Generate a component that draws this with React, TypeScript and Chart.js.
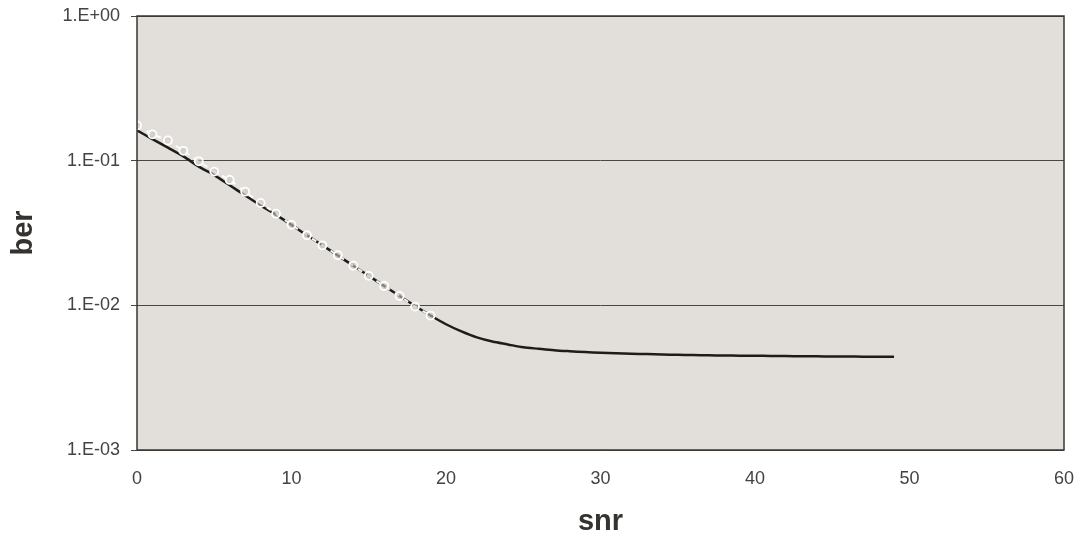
import React, { useEffect, useRef } from "react";
import { Chart, registerables } from "chart.js";

Chart.register(...registerables);

// snr values for the solid (theory) curve
const snrLine: number[] = [
  0, 1, 2, 3, 4, 5, 6, 7, 8, 9, 10, 11, 12, 13, 14, 15, 16, 17, 18, 19, 20, 21, 22, 23, 24,
  25, 26, 27, 28, 29, 30, 31, 32, 33, 34, 35, 36, 37, 38, 39, 40, 41, 42, 43, 44, 45, 46, 47, 48, 49,
];
const berLine: number[] = [
  0.162, 0.141, 0.123, 0.107, 0.091, 0.0794, 0.0676, 0.0575, 0.049, 0.0422,
  0.036, 0.0305, 0.026, 0.0221, 0.0188, 0.016, 0.0136, 0.0116, 0.0099, 0.0085,
  0.0074, 0.0066, 0.006, 0.00562, 0.00537, 0.00513, 0.00501, 0.0049, 0.00482, 0.00475,
  0.0047, 0.00466, 0.00463, 0.0046, 0.00457, 0.00455, 0.00453, 0.00451, 0.0045, 0.00449,
  0.00448, 0.00447, 0.00446, 0.00445, 0.00444, 0.00443, 0.00443, 0.00442, 0.00442, 0.00441,
];

// snr values for the marker (simulation) series
const snrMarkers: number[] = [0, 1, 2, 3, 4, 5, 6, 7, 8, 9, 10, 11, 12, 13, 14, 15, 16, 17, 18, 19];
const berMarkers: number[] = [
  0.175, 0.152, 0.138, 0.117, 0.099, 0.084, 0.0736, 0.061, 0.051, 0.043,
  0.036, 0.0305, 0.026, 0.0222, 0.0188, 0.016, 0.0136, 0.0116, 0.0098, 0.0085,
];

const yTickValues: number[] = [0.001, 0.01, 0.1, 1];
const yTickLabels: string[] = ["1.E-03", "1.E-02", "1.E-01", "1.E+00"];
const xTickValues: number[] = [0, 10, 20, 30, 40, 50, 60];

const FONT = "'Liberation Sans', Arial, sans-serif";

const plotBg = {
  id: "plotBg",
  beforeDraw(chart: any) {
    const { ctx, chartArea } = chart;
    ctx.save();
    ctx.fillStyle = "#e2dfda";
    ctx.fillRect(chartArea.left, chartArea.top, chartArea.right - chartArea.left, chartArea.bottom - chartArea.top);
    ctx.restore();
  },
  afterDatasetsDraw(chart: any) {
    const { ctx, chartArea } = chart;
    ctx.save();
    ctx.strokeStyle = "#3a3733";
    ctx.lineWidth = 1.5;
    ctx.strokeRect(chartArea.left, chartArea.top, chartArea.right - chartArea.left, chartArea.bottom - chartArea.top);
    ctx.restore();
  },
};

export default function App() {
  const ref = useRef<HTMLCanvasElement | null>(null);

  useEffect(() => {
    if (!ref.current) return;
    const chart = new Chart(ref.current, {
      type: "line",
      data: {
        datasets: [
          {
            label: "theory",
            data: snrLine.map((x, i) => ({ x, y: berLine[i] })),
            borderColor: "#1e1c1a",
            borderWidth: 2.5,
            pointRadius: 0,
            tension: 0.3,
            fill: false,
            order: 2,
          },
          {
            label: "simulation",
            data: snrMarkers.map((x, i) => ({ x, y: berMarkers[i] })),
            borderColor: "rgba(255,255,255,0.95)",
            borderWidth: 2,
            borderDash: [5, 6],
            pointRadius: 4,
            pointStyle: "circle",
            pointBorderColor: "#ffffff",
            pointBorderWidth: 1.8,
            pointBackgroundColor: "rgba(200,198,194,0.6)",
            tension: 0,
            fill: false,
            order: 1,
          },
        ],
      },
      options: {
        animation: false,
        responsive: true,
        maintainAspectRatio: false,
        layout: { padding: { left: 0, right: 23, top: 16, bottom: 0 } },
        plugins: {
          legend: { display: false },
          tooltip: { enabled: false },
        },
        scales: {
          x: {
            type: "linear",
            min: 0,
            max: 60,
            afterBuildTicks: (s: any) => {
              s.ticks = xTickValues.map((v) => ({ value: v }));
            },
            afterFit: (s: any) => {
              s.height = 92;
              s.paddingLeft = 0;
              s.paddingRight = 0;
            },
            grid: { display: false, drawTicks: false },
            border: { display: false },
            ticks: {
              padding: 18,
              color: "#454340",
              font: { family: FONT, size: 18 },
              maxRotation: 0,
            },
            title: {
              display: true,
              text: "snr",
              color: "#35332f",
              font: { family: FONT, size: 29, weight: "bold" },
              padding: { top: 2, bottom: 3 },
            },
          },
          y: {
            type: "logarithmic",
            min: 0.001,
            max: 1,
            afterBuildTicks: (s: any) => {
              s.ticks = yTickValues.map((v) => ({ value: v }));
            },
            afterFit: (s: any) => {
              s.width = 137;
              s.paddingTop = 0;
              s.paddingBottom = 0;
            },
            grid: {
              color: "#4a4743",
              lineWidth: 1,
              tickLength: 6,
              drawTicks: true,
            },
            border: { display: false },
            ticks: {
              padding: 11,
              color: "#454340",
              font: { family: FONT, size: 18 },
              callback: (v: any) => {
                const idx = yTickValues.findIndex((t) => Math.abs(Math.log10(t) - Math.log10(Number(v))) < 1e-6);
                return idx >= 0 ? yTickLabels[idx] : "";
              },
            },
            title: {
              display: true,
              text: "ber",
              color: "#35332f",
              font: { family: FONT, size: 29, weight: "bold" },
              padding: { top: 7, bottom: 0 },
            },
          },
        },
      },
      plugins: [plotBg],
    });
    return () => chart.destroy();
  }, []);

  return (
    <div style={{ position: "fixed", left: 0, top: 0, width: 1087, height: 542, background: "#ffffff" }}>
      <canvas ref={ref} />
    </div>
  );
}
